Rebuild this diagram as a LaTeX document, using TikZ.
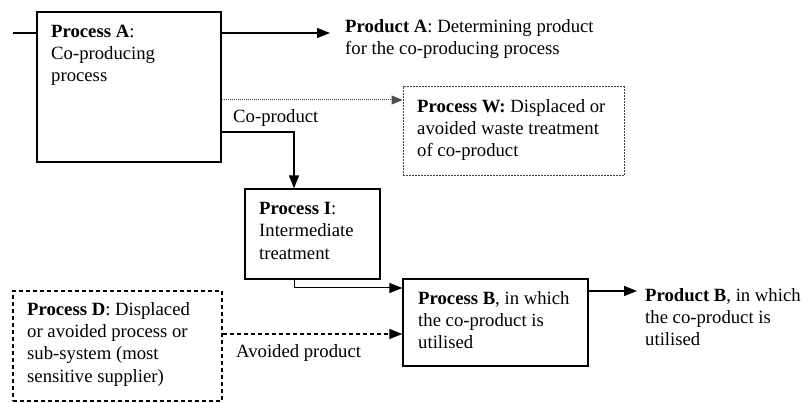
\documentclass[tikz,border=0pt]{standalone}
\usepackage{fontspec}
\setmainfont{Liberation Serif}
\usetikzlibrary{arrows.meta,calc}
\begin{document}
\begin{tikzpicture}[x=1pt,y=-1pt,
  box/.style={draw,line width=1.2pt,inner sep=0pt,rectangle},
  txt/.style={anchor=north west,inner sep=0pt,align=left,font=\fontsize{18.7}{22.4}\selectfont},
  arr/.style={line width=1.5pt,-{Triangle[length=13pt,width=10pt]}},
  thinarr/.style={line width=1pt,-{Triangle[length=13pt,width=10pt]}},
  dsh/.style={dash pattern=on 4pt off 3pt}]
\useasboundingbox (0,0) rectangle (803,403);
% boxes
\node[box,minimum width=184pt,minimum height=150pt] (A) at (129,87) {};
\node[box,draw=black!75,dash pattern=on 2pt off 1pt,line width=1pt,minimum width=221pt,minimum height=89pt] (W) at (513.5,131.5) {};
\node[box,minimum width=135pt,minimum height=90pt] (I) at (312.5,234) {};
\node[box,minimum width=185pt,minimum height=87pt] (B) at (495.5,322.5) {};
\node[box,dsh,minimum width=209pt,minimum height=110pt] (D) at (117.5,346) {};
% texts
\node[txt] (At) at (51,24.5) {\textbf{Process A}:\\Co-producing\\process};
\node[txt] (pA) at (345,19) {\textbf{Product A}: Determining product\\for the co-producing process};
\node[txt] (Wt) at (417,99) {\textbf{Process W:} Displaced or\\avoided waste treatment\\of co-product};
\node[txt] (It) at (259,202) {\textbf{Process I}:\\Intermediate\\treatment};
\node[txt] (Bt) at (418,291) {\textbf{Process B}, in which\\the co-product is\\utilised};
\node[txt] (pB) at (645,288) {\textbf{Product B}, in which\\the co-product is\\utilised};
\node[txt] (Dt) at (27,302) {\textbf{Process D}: Displaced\\or avoided process or\\sub-system (most\\sensitive supplier)};
\node[txt] (cp) at (233,109) {Co-product};
\node[txt] (ap) at (236,344) {Avoided product};
% helper coordinates
\coordinate (inA) at (13,33);
\coordinate (paTip) at (330,33);
\coordinate (wy) at (0,100);
\coordinate (cpy) at (0,132);
\coordinate (ibx) at (294,0);
\coordinate (iby) at (0,288);
\coordinate (dby) at (0,334);
\coordinate (pbTip) at (637,291);
% connectors
\draw[line width=1.2pt] (inA) -- (inA -| A.west);
\draw[arr] (A.east |- paTip) -- (paTip);
\draw[line width=1pt,draw=black!70,densely dotted,-{Triangle[length=11pt,width=9pt]}] (A.east |- wy) -- (W.west |- wy);
\draw[arr] (A.east |- cpy) -| (ibx |- I.north);
\draw[thinarr] (ibx |- I.south) |- (B.west |- iby);
\draw[line width=1.3pt,dsh,-{Triangle[length=13pt,width=10pt]}] (D.east |- dby) -- (B.west |- dby);
\draw[arr] (B.east |- pbTip) -- (pbTip);
\end{tikzpicture}
\end{document}
